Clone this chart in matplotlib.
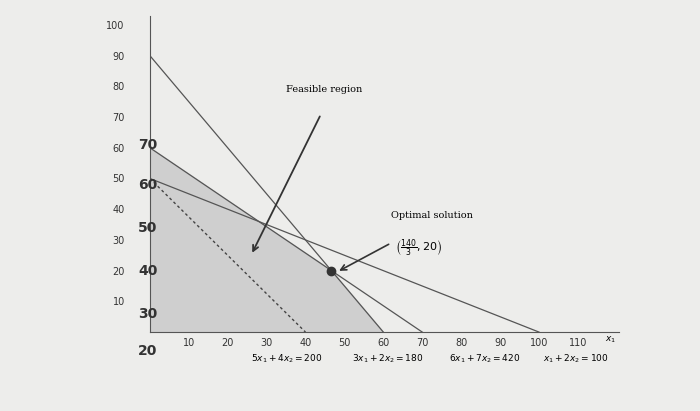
import matplotlib
matplotlib.use("Agg")
import matplotlib.pyplot as plt
import numpy as np

xticks = [10,20,30,40,50,60,70,80,90,100,110]
yticks = [10,20,30,40,50,60,70,80,90,100]
region_x = [0, 60, 140/3, 0]
region_y = [0, 0, 20, 60]
# constraints a*x1 + b*x2 = c
lines = [(3,2,180),(6,7,420),(1,2,100)]
dashed = (5,4,200)
opt = (140/3, 20)

fig = plt.figure(figsize=(7,4.11), dpi=100, facecolor="#ededeb")
ax = fig.add_axes([0.214, 0.192, 0.67, 0.77])
ax.set_facecolor("#ededeb")
ax.set_xlim(0, 120.5); ax.set_ylim(0, 103)
ax.fill(region_x, region_y, color="#cfcfcf", zorder=1)
for a,b,c in lines:
    ax.plot([0, c/a], [c/b, 0], color="#555", lw=0.9, zorder=2)
a,b,c = dashed
ax.plot([0, c/a], [c/b, 0], color="#444", lw=1, ls=(0,(2,2)), zorder=2)
ax.plot(*opt, 'o', color="#333", ms=6, zorder=3)
for s in ["top","right"]: ax.spines[s].set_visible(False)
for s in ["left","bottom"]: ax.spines[s].set_color("#555")
ax.set_xticks(xticks); ax.set_yticks(yticks)
ax.tick_params(labelsize=7, colors="#333", direction="in", length=0)
ax.set_yticklabels(yticks); ax.yaxis.set_tick_params(pad=18)
ax.xaxis.set_tick_params(pad=4)
ax.text(35,78,"Feasible region", fontsize=7, family="DejaVu Serif")
ax.annotate("", xy=(26,25), xytext=(44,71), arrowprops=dict(arrowstyle="->", color="#333", lw=1.3))
ax.text(62,37,"Optimal solution", fontsize=7, family="DejaVu Serif")
ax.text(63,26,r"$\left(\frac{140}{3},20\right)$", fontsize=8)
ax.annotate("", xy=(48,19.5), xytext=(62,29), arrowprops=dict(arrowstyle="->", color="#333", lw=1.2))
for v, yy in [(70,61),(60,48),(50,34),(40,20),(30,6)]:
    ax.text(-3, yy, str(v), fontsize=10, color="#333", ha="left", va="center", fontweight="bold")
ax.text(-3, -6, "20", fontsize=10, color="#333", ha="left", va="center", fontweight="bold")
ax.text(26,-9.5, r"$5x_1+4x_2=200$", fontsize=6.5)
ax.text(52,-9.5, r"$3x_1+2x_2=180$", fontsize=6.5)
ax.text(77,-9.5, r"$6x_1+7x_2=420$", fontsize=6.5)
ax.text(101,-9.5, r"$x_1+2x_2=100$", fontsize=6.5)
ax.text(117,-3, r"$x_1$", fontsize=6.5)
fig.savefig("out.png", dpi=100, facecolor=fig.get_facecolor())
